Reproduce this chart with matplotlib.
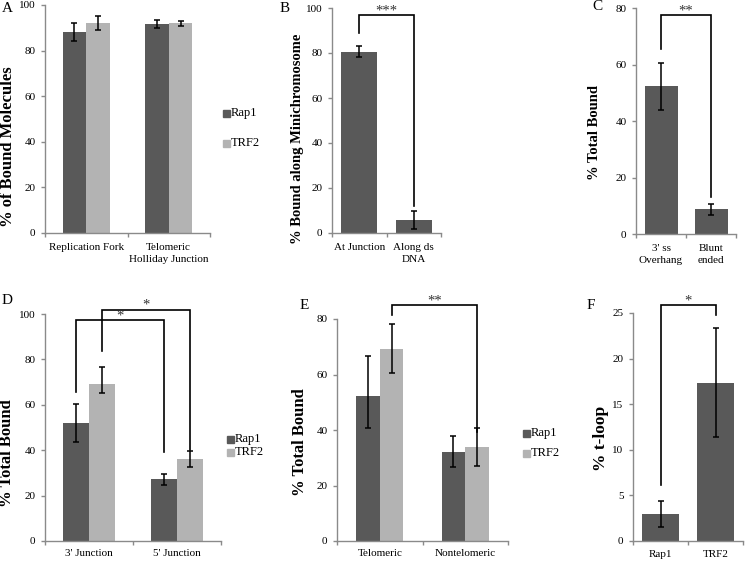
import matplotlib
matplotlib.use("Agg")
import matplotlib.pyplot as plt
from matplotlib.patches import Rectangle

plt.rcParams['font.family'] = ['Liberation Serif', 'DejaVu Serif']

# ---- data ----
series = ['Rap1', 'TRF2']
dark = '#595959'
light = '#b3b3b3'

a_cats = ['Replication Fork', 'Telomeric\nHolliday Junction']
a_rap1 = [88, 91.7]
a_rap1_err = [3.9, 1.8]
a_trf2 = [92, 92]
a_trf2_err = [3, 1.0]

b_cats = ['At Junction', 'Along ds\nDNA']
b_vals = [80.6, 5.8]
b_err = [2.6, 4.1]

c_cats = ["3' ss\nOverhang", 'Blunt\nended']
c_vals = [52.3, 8.75]
c_err = [8.4, 2.0]

d_cats = ["3' Junction", "5' Junction"]
d_rap1 = [51.8, 27.2]
d_rap1_lo = [8.1, 2.7]
d_rap1_hi = [8.6, 2.5]
d_trf2 = [69.1, 36.1]
d_trf2_lo = [4.0, 3.7]
d_trf2_hi = [7.5, 3.5]

e_cats = ['Telomeric', 'Nontelomeric']
e_rap1 = [52.2, 31.9]
e_rap1_lo = [11.3, 5.4]
e_rap1_hi = [14.5, 6.0]
e_trf2 = [69.2, 33.9]
e_trf2_lo = [8.6, 6.8]
e_trf2_hi = [9.0, 6.9]

f_cats = ['Rap1', 'TRF2']
f_vals = [2.93, 17.3]
f_lo = [1.36, 5.9]
f_hi = [1.46, 6.05]

W, H = 745, 563
fig = plt.figure(figsize=(W / 100, H / 100), dpi=100)


def px(x, y):
    return x / W, 1 - y / H


def make_axes(l, t, r, b, ymax, step, ncat):
    ax = fig.add_axes([l / W, 1 - b / H, (r - l) / W, (b - t) / H])
    for s in ['top', 'right']:
        ax.spines[s].set_visible(False)
    for s in ['left', 'bottom']:
        ax.spines[s].set_color('#8a8a8a')
        ax.spines[s].set_linewidth(1.0)
    ax.set_ylim(0, ymax)
    ax.set_yticks(range(0, ymax + 1, step))
    ax.set_xlim(-0.5, ncat - 0.5)
    ax.set_xticks([i - 0.5 for i in range(ncat + 1)])
    ax.set_xticklabels([])
    ax.tick_params(axis='both', which='major', direction='out', length=3,
                   width=1, color='#8a8a8a', labelsize=8, pad=3.8)
    return ax


def cat_labels(ax, cats, pad=7):
    ax.set_xticks(range(len(cats)), minor=True)
    ax.set_xticklabels(cats, minor=True, fontsize=8, linespacing=1.45)
    ax.tick_params(axis='x', which='minor', length=0, pad=pad)


def bracket(ax, x1, x2, y1, y2, top, stars):
    ax.plot([x1, x1, x2, x2], [y1, top, top, y2], color='black', lw=1.2,
            clip_on=False, solid_joinstyle='miter')
    ax.annotate(stars, xy=((x1 + x2) / 2, top), xytext=(0, 0.5),
                textcoords='offset points', ha='center', va='baseline',
                fontsize=10.5, color='#333333', annotation_clip=False)


def legend(x, ys, size=9):
    for name, col, y in zip(series, [dark, light], ys):
        x0, y0 = px(x, y + 3.5)
        fig.patches.append(Rectangle((x0, y0), 7 / W, 7 / H, color=col,
                                     transform=fig.transFigure))
        fig.text(*px(x + 8, y), name, fontsize=size, va='center', ha='left')


ekw = dict(ecolor='black', elinewidth=1.1, capsize=2.5, capthick=1.1)

# ---- A ----
ax = make_axes(45, 5, 210, 233, 100, 20, 2)
w = 0.287
xs = range(len(a_cats))
ax.bar([x - w / 2 for x in xs], a_rap1, w, color=dark, yerr=a_rap1_err, error_kw=ekw)
ax.bar([x + w / 2 for x in xs], a_trf2, w, color=light, yerr=a_trf2_err, error_kw=ekw)
cat_labels(ax, a_cats)
legend(223, [113, 143])
fig.text(*px(8.5, 147), '% of Bound Molecules', rotation=90, ha='center',
         va='center', fontsize=12, fontweight='bold')
fig.text(*px(2, 8), 'A', fontsize=11, va='center')

# ---- B ----
ax = make_axes(332, 8, 441, 233, 100, 20, 2)
ax.bar(range(2), b_vals, 0.66, color=dark, yerr=b_err, error_kw=ekw)
cat_labels(ax, b_cats)
bracket(ax, 0, 1, 88.7, 12, 96.9, '***')
fig.text(*px(298, 139), '% Bound along Minichromosome', rotation=90,
         ha='center', va='center', fontsize=10.5, fontweight='bold')
fig.text(*px(280, 8), 'B', fontsize=11, va='center')

# ---- C ----
ax = make_axes(636, 8.3, 736, 234, 80, 20, 2)
ax.bar(range(2), c_vals, 0.66, color=dark, yerr=c_err, error_kw=ekw)
cat_labels(ax, c_cats)
bracket(ax, 0, 1, 65.6, 13.2, 77.7, '**')
fig.text(*px(594, 133), '% Total Bound', rotation=90, ha='center',
         va='center', fontsize=10.5, fontweight='bold')
fig.text(*px(592, 7), 'C', fontsize=11, va='center')

# ---- D ----
ax = make_axes(45, 314, 221, 541, 100, 20, 2)
w = 0.29
ax.bar([x - w / 2 for x in xs], d_rap1, w, color=dark,
       yerr=[d_rap1_lo, d_rap1_hi], error_kw=ekw)
ax.bar([x + w / 2 for x in xs], d_trf2, w, color=light,
       yerr=[d_trf2_lo, d_trf2_hi], error_kw=ekw)
cat_labels(ax, d_cats, pad=5.5)
bracket(ax, -w / 2, 1 - w / 2, 65.8, 39.3, 97.2, '*')
bracket(ax, w / 2, 1 + w / 2, 83.5, 40, 101.9, '*')
legend(227, [439, 452])
fig.text(*px(7, 453), '% Total Bound', rotation=90, ha='center',
         va='center', fontsize=12, fontweight='bold')
fig.text(*px(2, 300), 'D', fontsize=11, va='center')

# ---- E ----
ax = make_axes(337, 319, 508, 541, 80, 20, 2)
w = 0.275
ax.bar([x - w / 2 for x in xs], e_rap1, w, color=dark,
       yerr=[e_rap1_lo, e_rap1_hi], error_kw=ekw)
ax.bar([x + w / 2 for x in xs], e_trf2, w, color=light,
       yerr=[e_trf2_lo, e_trf2_hi], error_kw=ekw)
cat_labels(ax, e_cats, pad=5.5)
bracket(ax, w / 2, 1 + w / 2, 81.5, 39.4, 85.1, '**')
legend(523, [433, 453])
fig.text(*px(300, 442), '% Total Bound', rotation=90, ha='center',
         va='center', fontsize=12, fontweight='bold')
fig.text(*px(300, 305), 'E', fontsize=11, va='center')

# ---- F ----
ax = make_axes(633, 313, 743, 541, 25, 5, 2)
ax.bar(range(2), f_vals, 0.67, color=dark, yerr=[f_lo, f_hi], error_kw=ekw)
cat_labels(ax, f_cats, pad=6.5)
bracket(ax, 0, 1, 6.1, 24.8, 25.9, '*')
fig.text(*px(601, 438), '% t-loop', rotation=90, ha='center',
         va='center', fontsize=12.5, fontweight='bold')
fig.text(*px(587, 305), 'F', fontsize=11, va='center')

fig.savefig('out.png', dpi=100)
